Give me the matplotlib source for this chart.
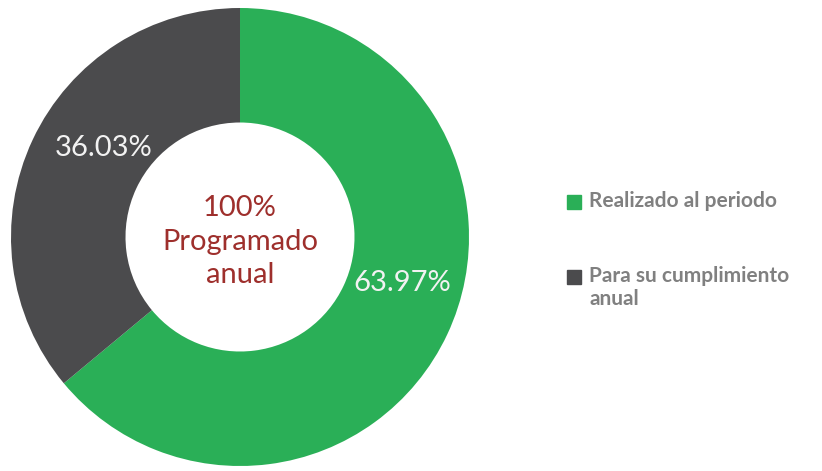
import matplotlib.pyplot as plt
from matplotlib.patches import Rectangle

# datos del avance anual
categorias = ['Realizado al periodo', 'Para su cumplimiento\nanual']
valores = [63.97, 36.03]
etiquetas = ['63.97%', '36.03%']
colores = ['#2AAF57', '#4B4B4D']
texto_centro = '100%\nProgramado\nanual'

W, H = 822, 471
fig = plt.figure(figsize=(W / 100, H / 100), dpi=100)

# centro del anillo en pixeles (240, 237), radio 229
cx, cy, r = 240, 237, 229
ax = fig.add_axes([(cx - r) / W, (H - cy - r) / H, 2 * r / W, 2 * r / H])
ax.pie(valores, colors=colores, startangle=90, counterclock=False,
       wedgeprops=dict(width=0.5, linewidth=0))
ax.set_xlim(-1, 1)
ax.set_ylim(-1, 1)
ax.set_aspect('equal')
ax.axis('off')

font = 'Lato'
# etiquetas de porcentaje
pos_etiquetas = [(0.71, -0.20), (-0.595, 0.39)]
for (x, y), t in zip(pos_etiquetas, etiquetas):
    ax.text(x, y, t, ha='center', va='center', color='#F2F2F2',
            fontsize=21, family=font)

ax.text(0, -0.02, texto_centro, ha='center', va='center', color='#9E2F2C',
        fontsize=21, family=font, linespacing=1.35)

# leyenda a la derecha
ley_y = [202, 277]
for c, lab, y in zip(colores, categorias, ley_y):
    fig.patches.append(Rectangle((567 / W, (H - y - 7) / H), 14 / W, 14 / H,
                                 transform=fig.transFigure, color=c))
    fig.text(589 / W, (H - y + 11) / H, lab, ha='left', va='top',
             color='#808080', fontsize=15, fontweight='bold', family=font,
             linespacing=1.2)

fig.savefig('out.png', dpi=100)
